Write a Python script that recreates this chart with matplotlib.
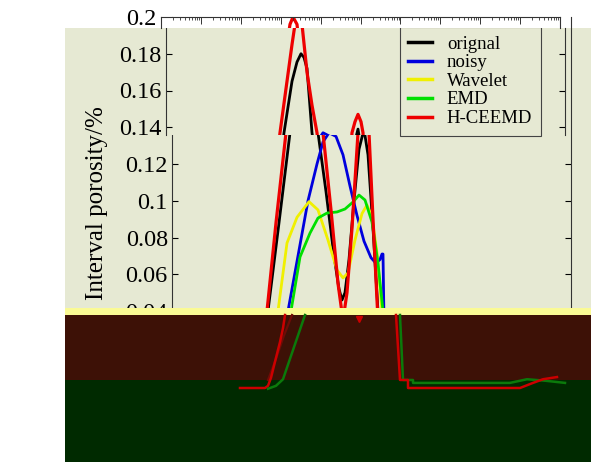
import numpy as np
import matplotlib
matplotlib.use("Agg")
from matplotlib import pyplot as plt
from matplotlib.patches import Rectangle
from matplotlib.ticker import LogLocator, NullFormatter

W, H = 591, 462

# depth sample index (x) and interval porosity (y)
orig_x = [96, 107, 118, 126, 131, 135, 138, 141, 146, 154, 162, 167, 170, 173, 177, 182, 187, 192, 196, 201, 206]
orig_y = [0.04, 0.088, 0.137, 0.165, 0.1755, 0.18, 0.178, 0.172, 0.137, 0.105, 0.07, 0.052, 0.046, 0.05, 0.068, 0.10, 0.128, 0.139, 0.125, 0.085, 0.04]

noisy_x = [116, 126, 136, 145, 151, 157, 164, 171, 178, 185, 192, 199, 204, 208, 210, 211, 212]
noisy_y = [0.04, 0.07, 0.10, 0.12, 0.132, 0.137, 0.135, 0.125, 0.108, 0.092, 0.078, 0.069, 0.066, 0.068, 0.071, 0.071, 0.035]

wave_x = [106, 115, 125, 137, 146, 156, 165, 171, 176, 183, 190, 195, 200, 205, 210]
wave_y = [0.04, 0.077, 0.091, 0.0995, 0.095, 0.0786, 0.0623, 0.058, 0.0607, 0.0786, 0.093, 0.0977, 0.091, 0.0716, 0.04]

emd_x = [119, 128, 138, 146, 155, 165, 173, 181, 187, 193, 200, 206, 211]
emd_y = [0.04, 0.0694, 0.0824, 0.0906, 0.0933, 0.0939, 0.0955, 0.0993, 0.1031, 0.1004, 0.0884, 0.0661, 0.04]

hc_x = [95, 104, 114, 121, 126, 129, 132, 136, 141, 146, 151, 159, 166, 171, 175, 180, 186, 189, 192, 195, 197, 201, 206]
hc_y = [0.04, 0.088, 0.137, 0.165, 0.185, 0.196, 0.2, 0.196, 0.17, 0.152, 0.137, 0.095, 0.055, 0.035, 0.05, 0.085, 0.137, 0.143, 0.147, 0.143, 0.137, 0.09, 0.035]

series = [
    ("orignal", orig_x, orig_y, "#000000"),
    ("noisy", noisy_x, noisy_y, "#0000dd"),
    ("Wavelet", wave_x, wave_y, "#f0f000"),
    ("EMD", emd_x, emd_y, "#00e000"),
    ("H-CEEMD", hc_x, hc_y, "#ee0000"),
]

# smeared copies that show through in the lower (dark) part
tail_red1_x = [68, 93, 96, 99, 103, 108, 111, 113]
tail_red1_y = [0, 0, 0.03, 0.14, 0.36, 0.63, 0.82, 1.0]
tail_dark_x = [96, 104, 112, 120]
tail_dark_y = [0.11, 0.4, 0.72, 1.0]
tail_grn1_x = [96, 104, 111, 118, 126, 133]
tail_grn1_y = [-0.01, 0.03, 0.12, 0.4, 0.72, 1.0]
tail_red2_x = [224, 228, 236, 236, 348, 361, 371, 385]
tail_red2_y = [1.0, 0.11, 0.11, 0, 0, 0.07, 0.12, 0.15]
tail_grn2_x = [228, 231, 241, 241, 338, 355, 373, 393]
tail_grn2_y = [1.0, 0.11, 0.11, 0.07, 0.07, 0.12, 0.10, 0.07]
tip_x = [187]
tip_y = [0.945]

ticks_low = [0.04, 0.06, 0.08, 0.1, 0.12]
ticks_mid = [0.14, 0.16, 0.18]
ticks_top = [0.2]
tick_labels = {0.04: "0.04", 0.06: "0.06", 0.08: "0.08", 0.1: "0.1", 0.12: "0.12",
               0.14: "0.14", 0.16: "0.16", 0.18: "0.18", 0.2: "0.2"}

BEIGE = "#e6e9d3"
SERIF = "Liberation Serif"
plt.rcParams["font.family"] = SERIF


def box(x0, y0, x1, y1):
    return [x0 / W, 1 - y1 / H, (x1 - x0) / W, (y1 - y0) / H]


def yval(py):
    # pixel row -> porosity value (0.2 at row 17, 0.04 at row 311)
    return 0.2 - (py - 17) / 294 * 0.16


def style(ax, yt):
    ax.set_xlim(0, 399)
    ax.set_xticks([])
    for s in ["top", "bottom"]:
        ax.spines[s].set_visible(False)
    for s in ["left", "right"]:
        ax.spines[s].set_linewidth(0.8)
        ax.spines[s].set_color("#333333")
    ax.set_yticks(yt)
    ax.set_yticklabels([tick_labels[t] for t in yt])
    ax.tick_params(axis="y", direction="in", length=4, width=0.8, right=True,
                   labelsize=17.5, pad=3)


def draw(ax):
    for name, xs, ys, c in series:
        ax.plot(xs, ys, color=c, lw=2.0 if name != "H-CEEMD" else 2.3, label=name,
                solid_joinstyle="round")


fig = plt.figure(figsize=(W / 100, H / 100), dpi=100)

# beige back panel
fig.add_artist(Rectangle((65 / W, 1 - 308 / H), 526 / W, 280 / H,
                         transform=fig.transFigure, facecolor=BEIGE,
                         edgecolor="none", zorder=-5))

# lower slice (full scale, seen below row 135)
ax = fig.add_axes(box(172, 17, 571, 311))
ax.set_facecolor("none")
draw(ax)
ax.set_ylim(0.04, 0.2)
style(ax, ticks_low)

# middle slice, shifted left
axm = fig.add_axes(box(166, 28, 565, 135))
axm.set_facecolor(BEIGE)
draw(axm)
axm.set_ylim(yval(135), yval(28))
style(axm, ticks_mid)
leg = axm.legend(loc="upper left", bbox_to_anchor=(400 / W, 1 - 27 / H),
                 bbox_transform=fig.transFigure, borderaxespad=0,
                 fancybox=False, framealpha=1, facecolor=BEIGE, edgecolor="#444444",
                 prop={"family": SERIF, "size": 13.5}, handlelength=1.25,
                 handletextpad=0.8, labelspacing=0.08, borderpad=0.45)
leg.get_frame().set_linewidth(0.8)
for ln in leg.get_lines():
    ln.set_linewidth(2.5)

# top slice on white, shifted further left
axt = fig.add_axes(box(161, 17, 560, 28))
axt.set_facecolor("white")
draw(axt)
axt.set_ylim(yval(28), yval(17))
style(axt, ticks_top)
axt.tick_params(axis="y", length=0)
axt.spines["top"].set_visible(True)
axt.spines["top"].set_linewidth(0.8)
axt.spines["top"].set_color("#333333")
axl = axt.twiny()
axl.set_xscale("log")
axl.set_xlim(1, 1e10)
axl.xaxis.set_major_locator(LogLocator(base=10, numticks=20))
axl.xaxis.set_minor_locator(LogLocator(base=10, subs=np.arange(2, 10), numticks=200))
axl.xaxis.set_major_formatter(NullFormatter())
axl.xaxis.set_minor_formatter(NullFormatter())
axl.tick_params(axis="x", which="major", direction="in", length=5, width=0.7, colors="#333333")
axl.tick_params(axis="x", which="minor", direction="in", length=2.5, width=0.6, colors="#333333")
for s in ["left", "right", "bottom", "top"]:
    axl.spines[s].set_visible(False)

fig.text(97 / W, 1 - 203 / H, "Interval porosity/%", rotation=90, ha="center",
         va="center", fontsize=18, family=SERIF)

# dark lower bands with the smeared copies
axb = fig.add_axes(box(65, 308, 591, 462), zorder=5)
axb.set_facecolor("none")
axb.set_xlim(65 - 172, 591 - 172)
axb.set_ylim(-74 / 73, 80 / 73)
axb.axis("off")
axb.axhspan(1.0, 80 / 73, color="#fafa94", lw=0)
axb.axhspan(8 / 73, 1.0, color="#3d1106", lw=0)
axb.axhspan(-74 / 73, 8 / 73, color="#002a00", lw=0)
axb.plot(tail_dark_x, tail_dark_y, color="#6e0c06", lw=1.6)
axb.plot(tail_red1_x, tail_red1_y, color="#cc0000", lw=1.8)
axb.plot(tail_grn1_x, tail_grn1_y, color="#0b7a0b", lw=1.8)
axb.plot(tail_grn2_x, tail_grn2_y, color="#0b7a0b", lw=1.8)
axb.plot(tail_red2_x, tail_red2_y, color="#cc0000", lw=1.8)
axb.plot(tip_x, tip_y, "v", color="#cc0000", ms=5)

fig.savefig("out.png", dpi=100)
